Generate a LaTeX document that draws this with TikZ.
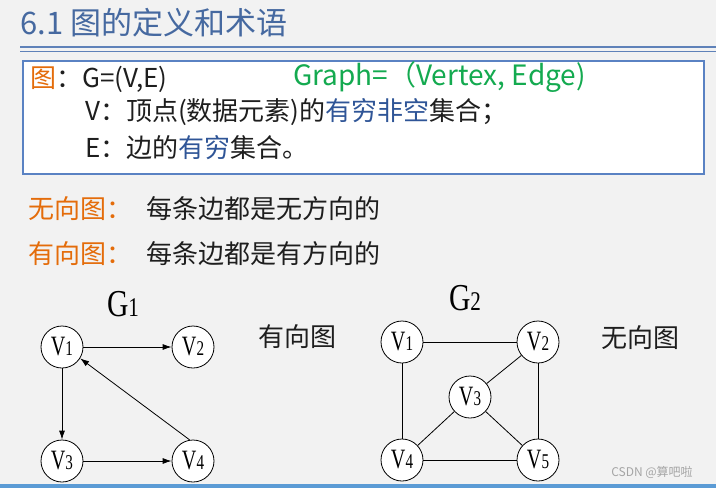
\documentclass[tikz,border=0pt]{standalone}
\usepackage{fontspec}
\usepackage{graphicx}
\usetikzlibrary{arrows.meta}
\newfontfamily\cjk{Noto Sans CJK SC}
\newfontfamily\vserif{Liberation Serif}
\definecolor{bg}{RGB}{242,242,242}
\definecolor{titleblue}{RGB}{70,105,160}
\definecolor{rulecol}{RGB}{95,130,185}
\definecolor{boxblue}{RGB}{90,130,195}
\definecolor{orng}{RGB}{228,108,10}
\definecolor{grn}{RGB}{20,170,80}
\definecolor{wblue}{RGB}{47,85,151}
\definecolor{txt}{RGB}{30,30,30}
\definecolor{bottomline}{RGB}{91,155,213}
\definecolor{wm}{RGB}{165,165,165}
\newcommand{\vlab}[2]{\scalebox{0.72}[1]{\vserif\fontsize{28}{28}\selectfont #1\fontsize{21}{21}\selectfont #2}}
\newcommand{\glab}[2]{\scalebox{0.78}[1]{\vserif\fontsize{38}{38}\selectfont #1\fontsize{27}{27}\selectfont #2}}
\tikzset{
  txtnode/.style={anchor=west, inner sep=0pt, text=txt, font=\cjk\fontsize{26}{26}\selectfont},
  midnode/.style={anchor=west, inner sep=0pt, text=txt, font=\cjk\fontsize{26}{26}\selectfont},
  vert/.style={circle, draw=black, fill=white, line width=0.8pt, minimum size=42pt, inner sep=0pt, text=black},
  arr/.style={-{Latex[length=9pt,width=6pt]}, line width=0.8pt, draw=black},
  edge2/.style={line width=0.8pt, draw=black}
}
\begin{document}
\begin{tikzpicture}[x=1pt,y=-1pt]
\fill[bg] (0,0) rectangle (716,488);
\useasboundingbox (0,0) rectangle (716,488);
% title
\node[anchor=west, inner sep=0pt, text=titleblue, font=\cjk\fontsize{31}{31}\selectfont] (title) at (20,23) {6.1 图的定义和术语};
\draw[rulecol, line width=2pt] (20,47) -- (716,47);
\draw[rulecol, line width=1pt] (20,51) -- (716,51);
% definition box
\node[draw=boxblue, line width=2pt, fill=white, anchor=north west, minimum width=681pt, minimum height=113pt, inner sep=0pt] (defbox) at (22,60) {};
\node[txtnode] (l1) at (30,79) {\textcolor{orng}{图}：G=(V,E)};
\node[txtnode, text=grn, font=\cjk\fontsize{28}{28}\selectfont] (graph) at (293,77) {Graph=（Vertex, Edge)};
\node[txtnode] (l2) at (85,112) {V：顶点(数据元素)的\textcolor{wblue}{有穷非空}集合；};
\node[txtnode] (l3) at (85,148) {E：边的\textcolor{wblue}{有穷}集合。};
% undirected / directed descriptions
\node[midnode, text=orng] (ud) at (28,209) {无向图：};
\node[midnode] (udt) at (146,209) {每条边都是无方向的};
\node[midnode, text=orng] (dg) at (28,254) {有向图：};
\node[midnode] (dgt) at (146,254) {每条边都是有方向的};
% G1
\node[inner sep=0pt] (g1) at (123,304) {\glab{G}{1}};
\node[vert] (a1) at (62,347) {\vlab{V}{1}};
\node[vert] (a2) at (193,347) {\vlab{V}{2}};
\node[vert] (a3) at (62,461) {\vlab{V}{3}};
\node[vert] (a4) at (193,461) {\vlab{V}{4}};
\draw[arr] (a1) -- (a2);
\draw[arr] (a1) -- (a3);
\draw[arr] (a3) -- (a4);
\draw[arr] (a4.99) -- (a1.-32);
\node[midnode, anchor=center] (dlab) at (297,337) {有向图};
% G2
\node[inner sep=0pt] (g2) at (465,298) {\glab{G}{2}};
\node[vert] (b1) at (402,342) {\vlab{V}{1}};
\node[vert] (b2) at (538,342) {\vlab{V}{2}};
\node[vert] (b3) at (470,397) {\vlab{V}{3}};
\node[vert] (b4) at (402,460) {\vlab{V}{4}};
\node[vert] (b5) at (538,460) {\vlab{V}{5}};
\draw[edge2] (b1) -- (b2);
\draw[edge2] (b1) -- (b4);
\draw[edge2] (b2) -- (b3);
\draw[edge2] (b2) -- (b5);
\draw[edge2] (b3) -- (b4);
\draw[edge2] (b3) -- (b5);
\draw[edge2] (b4) -- (b5);
\node[midnode, anchor=center] (ulab) at (640,338) {无向图};
\node[inner sep=0pt, text=wm, font=\cjk\fontsize{12}{12}\selectfont] (wmk) at (652,472) {CSDN @算吧啦};
% bottom line
\fill[bottomline] (0,484) rectangle (716,488);
\end{tikzpicture}
\end{document}
